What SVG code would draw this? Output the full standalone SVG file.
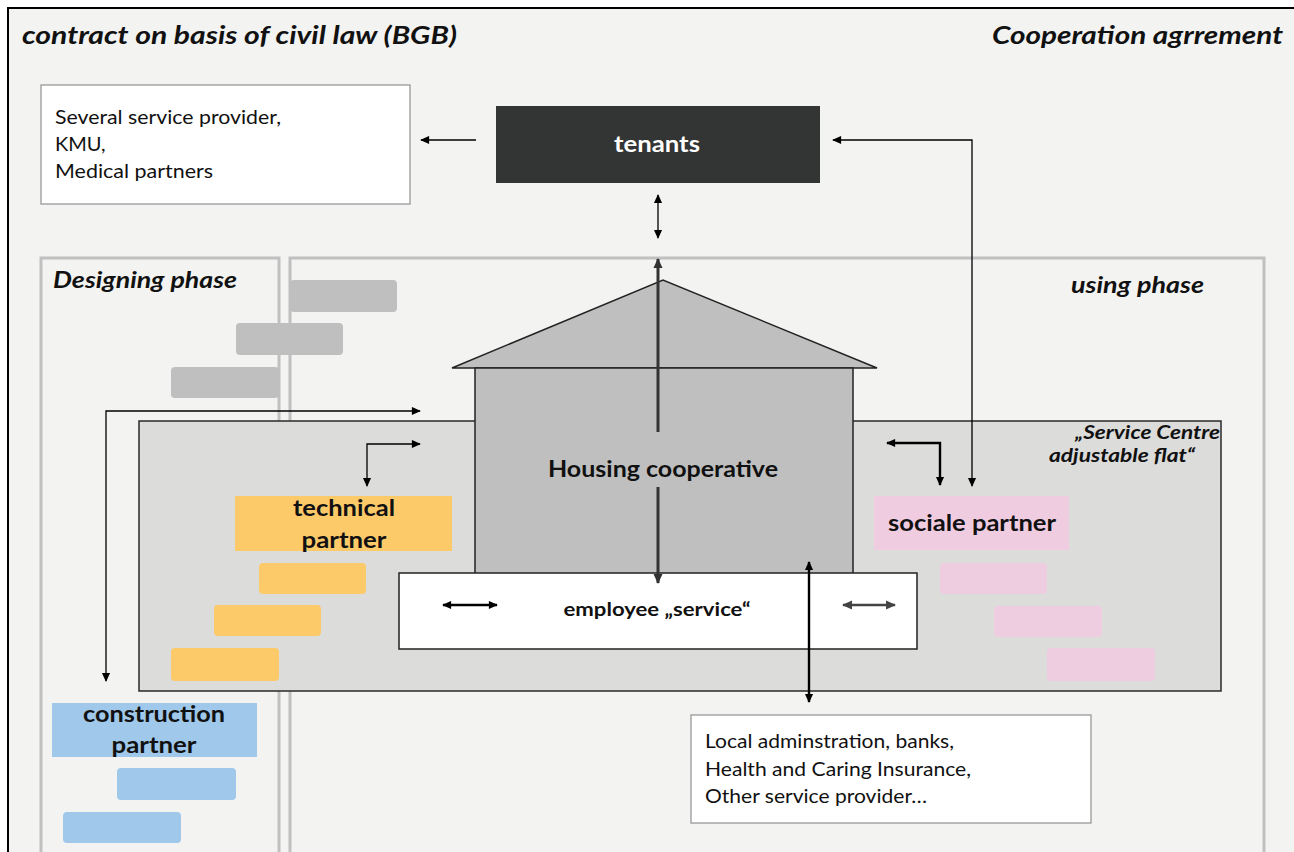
<svg xmlns="http://www.w3.org/2000/svg" width="1294" height="852" viewBox="0 0 1294 852">
<defs>
<style>
.t{font-family:Lato,"Liberation Sans",sans-serif;fill:#111}
.b{font-weight:bold}
.i{font-style:italic}
.phase{fill:none;stroke:#c0c0c0;stroke-width:3}
.box{fill:#fff;stroke:#999;stroke-width:1.3}
.ln{fill:none;stroke:#000;stroke-width:1.3}
.lnb{fill:none;stroke:#000;stroke-width:2.4}
</style>
<marker id="a" viewBox="0 0 10 10" refX="9" refY="5" markerWidth="10" markerHeight="9" markerUnits="userSpaceOnUse" orient="auto-start-reverse"><path d="M0,0.5 L10,5 L0,9.5z" fill="#000"/></marker>
<marker id="ad" viewBox="0 0 10 10" refX="9" refY="5" markerWidth="11" markerHeight="10" markerUnits="userSpaceOnUse" orient="auto-start-reverse"><path d="M0,0.5 L10,5 L0,9.5z" fill="#333"/></marker>
<marker id="ag" viewBox="0 0 10 10" refX="9" refY="5" markerWidth="11" markerHeight="10" markerUnits="userSpaceOnUse" orient="auto-start-reverse"><path d="M0,0.5 L10,5 L0,9.5z" fill="#444"/></marker>
</defs>
<rect x="0" y="0" width="1294" height="852" fill="#fff"/>
<rect id="frame" x="8" y="8" width="1320" height="900" fill="#f3f3f2" stroke="#000" stroke-width="2"/>
<g id="headers">
<text class="t b i" x="22" y="44" font-size="24" textLength="435" lengthAdjust="spacingAndGlyphs">contract on basis of civil law (BGB)</text>
<text class="t b i" x="1283" y="44" font-size="24" text-anchor="end" textLength="291" lengthAdjust="spacingAndGlyphs">Cooperation agrrement</text>
</g>
<g id="designing-phase">
<rect class="phase" x="41" y="258" width="238" height="640"/>
<text class="t b i" x="53" y="288" font-size="23" textLength="184" lengthAdjust="spacingAndGlyphs">Designing phase</text>
</g>
<g id="using-phase">
<rect class="phase" x="290" y="258" width="974" height="640"/>
<text class="t b i" x="1204" y="293" font-size="23" text-anchor="end" textLength="133" lengthAdjust="spacingAndGlyphs">using phase</text>
</g>
<g id="grey-steps" fill="#bfbfbf">
<rect x="290" y="280" width="107" height="32" rx="4"/>
<rect x="236" y="323" width="107" height="32" rx="4"/>
<rect x="171" y="367" width="108" height="31" rx="4"/>
</g>
<g id="service-centre">
<rect x="139" y="421" width="1082" height="270" fill="#dcdcdb" stroke="#2a2a2a" stroke-width="1.5"/>
<text class="t b i" x="1075" y="439" font-size="19" textLength="145" lengthAdjust="spacingAndGlyphs">„Service Centre</text>
<text class="t b i" x="1049" y="462" font-size="19" textLength="146" lengthAdjust="spacingAndGlyphs">adjustable flat“</text>
</g>
<g id="housing-cooperative">
<polygon points="452,368 663,280 877,368" fill="#bfbfbf" stroke="#222" stroke-width="1.5"/>
<rect x="475" y="368" width="378" height="215" fill="#bfbfbf" stroke="#222" stroke-width="1.5"/>
<text class="t b" x="663" y="477" font-size="23" text-anchor="middle" textLength="230" lengthAdjust="spacingAndGlyphs">Housing cooperative</text>
</g>
<g id="technical-partner">
<rect x="235" y="496" width="217" height="55" fill="#fdca6a"/>
<text class="t b" x="344" y="516" font-size="23" text-anchor="middle" textLength="102" lengthAdjust="spacingAndGlyphs">technical</text>
<text class="t b" x="344" y="548" font-size="23" text-anchor="middle" textLength="85" lengthAdjust="spacingAndGlyphs">partner</text>
<g fill="#fdca6a">
<rect x="259" y="563" width="107" height="31" rx="4"/>
<rect x="214" y="605" width="107" height="31" rx="4"/>
<rect x="171" y="648" width="108" height="33" rx="4"/>
</g>
</g>
<g id="sociale-partner">
<rect x="874" y="496" width="195" height="54" fill="#f0cce1"/>
<text class="t b" x="972" y="531" font-size="23" text-anchor="middle" textLength="168" lengthAdjust="spacingAndGlyphs">sociale partner</text>
<g fill="#efcde1">
<rect x="940" y="563" width="107" height="31" rx="4"/>
<rect x="994" y="606" width="108" height="31" rx="4"/>
<rect x="1047" y="648" width="108" height="33" rx="4"/>
</g>
</g>
<g id="construction-partner">
<rect x="52" y="703" width="205" height="54" fill="#9fc8ea"/>
<text class="t b" x="154" y="722" font-size="23" text-anchor="middle" textLength="142" lengthAdjust="spacingAndGlyphs">construction</text>
<text class="t b" x="154" y="753" font-size="23" text-anchor="middle" textLength="85" lengthAdjust="spacingAndGlyphs">partner</text>
<g fill="#9fc8ea">
<rect x="117" y="768" width="119" height="32" rx="4"/>
<rect x="63" y="812" width="118" height="31" rx="4"/>
</g>
</g>
<g id="employee-service">
<rect x="399" y="573" width="518" height="76" fill="#fff" stroke="#222" stroke-width="1.5"/>
<text class="t b" x="657" y="616" font-size="19" text-anchor="middle" textLength="187" lengthAdjust="spacingAndGlyphs">employee „service“</text>
</g>
<g id="tenants">
<rect x="496" y="106" width="324" height="77" fill="#333434"/>
<text class="t b" x="657" y="152" font-size="23" text-anchor="middle" style="fill:#fff" textLength="86" lengthAdjust="spacingAndGlyphs">tenants</text>
</g>
<g id="service-providers">
<rect class="box" x="41" y="85" width="369" height="119"/>
<text class="t" x="55" y="124" font-size="20" textLength="226" lengthAdjust="spacingAndGlyphs">Several service provider,</text>
<text class="t" x="55" y="151" font-size="20">KMU,</text>
<text class="t" x="55" y="178" font-size="20" textLength="158" lengthAdjust="spacingAndGlyphs">Medical partners</text>
</g>
<g id="local-administration">
<rect class="box" x="691" y="715" width="400" height="108"/>
<text class="t" x="705" y="748" font-size="20" textLength="249" lengthAdjust="spacingAndGlyphs">Local adminstration, banks,</text>
<text class="t" x="705" y="776" font-size="20" textLength="266" lengthAdjust="spacingAndGlyphs">Health and Caring Insurance,</text>
<text class="t" x="705" y="803" font-size="20" textLength="222" lengthAdjust="spacingAndGlyphs">Other service provider…</text>
</g>
<g id="connectors">
<path class="ln" d="M476,140 H421" marker-end="url(#a)"/>
<path class="ln" d="M833,140 H972 V486" marker-start="url(#a)" marker-end="url(#a)"/>
<path class="ln" d="M658,195 V238" marker-start="url(#a)" marker-end="url(#a)"/>
<path d="M658,432 V259" fill="none" stroke="#333" stroke-width="3" marker-end="url(#ad)"/>
<path d="M658,487 V583" fill="none" stroke="#333" stroke-width="3" marker-end="url(#ad)"/>
<path class="lnb" d="M809,562 V702" marker-start="url(#a)" marker-end="url(#a)"/>
<path class="ln" d="M420,411 H106 V681" marker-start="url(#a)" marker-end="url(#a)"/>
<path class="ln" d="M420,444 H367 V486" marker-start="url(#a)" marker-end="url(#a)"/>
<path class="lnb" d="M887,443 H940 V485" marker-start="url(#a)" marker-end="url(#a)"/>
<path class="lnb" d="M443,605 H497" marker-start="url(#a)" marker-end="url(#a)"/>
<path d="M843,605 H895" fill="none" stroke="#444" stroke-width="2.4" marker-start="url(#ag)" marker-end="url(#ag)"/>
</g>
</svg>
